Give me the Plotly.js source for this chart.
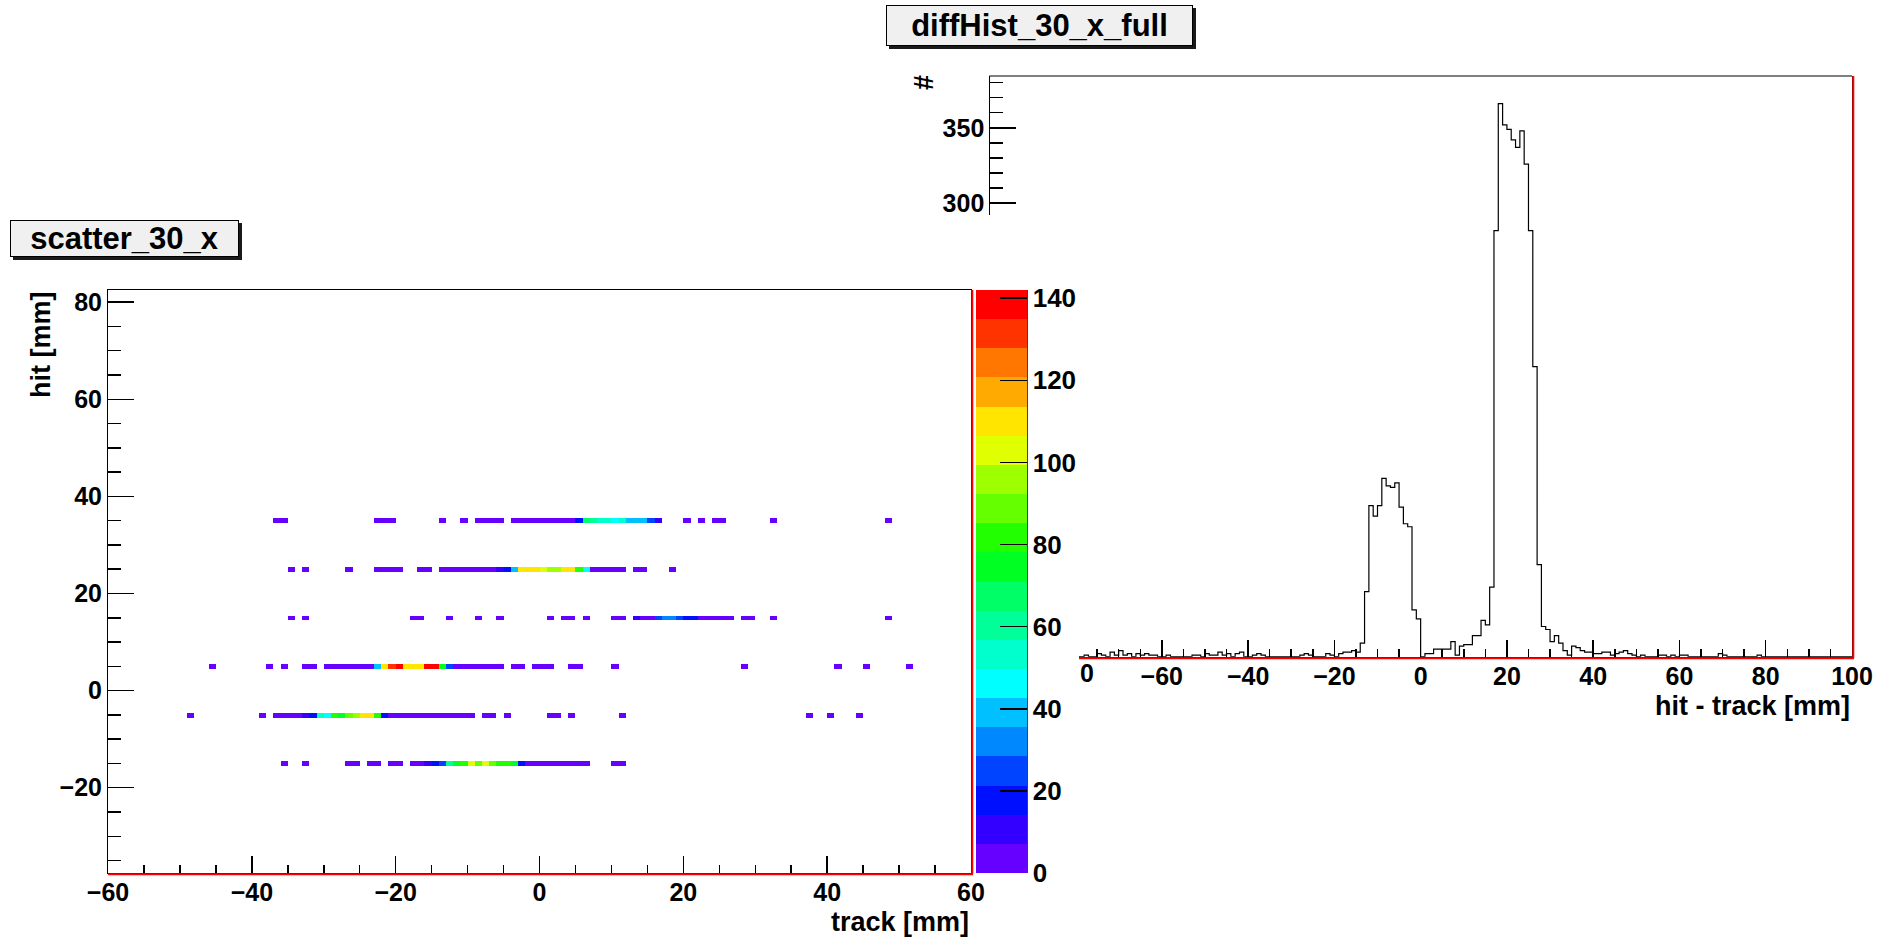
<!DOCTYPE html>
<html>
<head>
<meta charset="utf-8">
<script src="https://cdn.plot.ly/plotly-3.0.1.min.js"></script>
<style>
html,body{margin:0;padding:0;background:#fff;}
#chart{width:1896px;height:938px;}
</style>
</head>
<body>
<div id="chart"></div>
<script>
// ---------------- DATA ----------------
// scatter_30_x : 2D histogram, x bins of 1 mm (-60..60), y bins of 1 mm centred on integers (-37..82)
const scatterXMin = -60, scatterXBins = 120;
const scatterYMin = -37, scatterYBins = 120;
// each row: y centre, lower edges of filled x bins, counts
const row35_y = 35;
const row35_x = [-37,-36,-23,-22,-21,-14,-11,-9,-8,-7,-6,-4,-3,-2,-1,0,1,2,3,4,5,6,7,8,9,10,11,12,13,14,15,16,20,22,24,25,32,48];
const row35_n = [3,2,4,5,3,2,3,4,5,3,4,5,6,5,6,4,6,5,6,5,18,66,58,55,52,45,53,40,38,41,25,12,3,2,4,3,2,2];
const row25_y = 25;
const row25_x = [-35,-33,-27,-23,-22,-21,-20,-17,-16,-14,-13,-12,-11,-10,-9,-8,-7,-6,-5,-4,-3,-2,-1,0,1,2,3,4,5,6,7,8,9,10,11,13,14,18];
const row25_n = [3,2,3,4,5,5,4,3,4,5,6,5,6,6,5,6,6,11,17,38,108,110,109,103,95,97,108,111,80,45,6,5,6,5,4,4,3,2];
const row15_y = 15;
const row15_x = [-35,-33,-18,-17,-13,-9,-6,1,3,4,6,10,11,13,14,15,16,17,18,19,20,21,22,23,24,25,26,28,29,32,48];
const row15_n = [2,2,3,3,2,2,2,3,3,4,3,4,3,10,5,6,22,30,30,24,17,16,6,5,6,5,4,4,3,3,2];
const row5_y = 5;
const row5_x = [-46,-38,-36,-33,-32,-30,-29,-28,-27,-26,-25,-24,-23,-22,-21,-20,-19,-18,-17,-16,-15,-14,-13,-12,-11,-10,-9,-8,-7,-6,-4,-3,-1,0,1,4,5,10,28,41,45,51];
const row5_n = [3,2,3,4,3,5,6,5,6,6,5,6,38,110,132,136,110,108,112,142,139,78,22,6,6,5,6,5,6,4,5,4,4,5,4,5,4,3,2,2,2,2];
const rowm5_y = -5;
const rowm5_x = [-49,-39,-37,-36,-35,-34,-33,-32,-31,-30,-29,-28,-27,-26,-25,-24,-23,-22,-21,-20,-19,-18,-17,-16,-15,-14,-13,-12,-11,-10,-8,-7,-5,1,2,4,11,37,40,44];
const rowm5_n = [2,2,4,5,5,6,10,20,50,46,82,78,90,96,110,108,80,20,6,5,6,5,6,5,4,5,4,5,5,4,4,3,3,3,3,2,2,2,2,2];
const rowm15_y = -15;
const rowm15_x = [-36,-33,-27,-26,-24,-23,-21,-20,-18,-17,-16,-15,-14,-13,-12,-11,-10,-9,-8,-7,-6,-5,-4,-3,-2,-1,0,1,2,3,4,5,6,10,11];
const rowm15_n = [3,2,4,3,4,5,4,5,5,6,11,18,26,58,72,80,102,92,104,92,80,82,78,16,6,5,6,5,6,5,6,5,4,3,3];

const zMax = 142;
const zTicks = [0,20,40,60,80,100,120,140];
const paletteColors = ['#6600ff','#3300ff','#0010ff','#0044ff','#0088ff','#00c0ff','#00ffff','#00ffcc','#00ff99','#00ff66','#00ff22','#22ff00','#66ff00','#9eff00','#e0ff00','#ffe500','#ffaa00','#ff7700','#ff3300','#ff0000'];

// diffHist_30_x_full : 1D histogram, 200 bins of 1 mm from -100 to 100
const diffXMin = -100, diffBinWidth = 1;
const diffCounts = [
 0,1,0,0,2,0,1,0,0,1, 0,0,1,0,2,0,0,1,0,0,            // -100 .. -81
 0,0,1,0,0,2,1,0,3,1, 4,1,2,0,2,1,2,1,1,0,            // -80 .. -61
 0,1,0,0,0,0,0,1,1,0, 2,1,1,3,1,2,0,2,3,0,            // -60 .. -41
 0,1,2,1,0,0,0,0,0,0, 0,0,1,2,1,0,0,0,2,1,            // -40 .. -21
 0,2,3,3,4,3,9,43,100,93, 100,118,113,112,115,99,88,86,31,25, // -20 .. -1
 0,2,2,5,5,5,5,10,1,7, 8,8,14,14,24,21,46,282,366,352,  // 0 .. 19
 349,342,337,348,326,282,192,61,20,18, 10,14,9,4,1,7,6,4,3,3, // 20 .. 39
 2,2,3,3,1,2,3,4,2,1, 0,1,0,0,0,1,1,0,1,0,            // 40 .. 59
 1,1,0,0,0,0,0,0,0,2, 1,0,0,0,0,0,0,0,1,0,            // 60 .. 79
 0,0,0,0,0,0,0,0,0,0, 0,0,0,0,0,0,0,0,0,0             // 80 .. 99
];
const diffYMax = 384.3;

// ---------------- BUILD ----------------
const W = 1896, H = 938;
const px = v => v / W;
const py = v => 1 - v / H;
const FONT = 'Liberation Sans, Arial, Helvetica, sans-serif';

const xc = [], yc = [];
for (let i = 0; i < scatterXBins; i++) xc.push(scatterXMin + i + 0.5);
for (let j = 0; j < scatterYBins; j++) yc.push(scatterYMin + j);
const z = yc.map(() => xc.map(() => null));
const rows = [[row35_y,row35_x,row35_n],[row25_y,row25_x,row25_n],[row15_y,row15_x,row15_n],
              [row5_y,row5_x,row5_n],[rowm5_y,rowm5_x,rowm5_n],[rowm15_y,rowm15_x,rowm15_n]];
rows.forEach(([yy, xs, ns]) => {
  const j = yy - scatterYMin;
  xs.forEach((xl, k) => { z[j][xl - scatterXMin] = ns[k]; });
});
const cs = [];
paletteColors.forEach((c, i) => { cs.push([i / 20, c]); cs.push([(i + 1) / 20, c]); });

const hx = [diffXMin], hy = [0];
diffCounts.forEach((v, i) => { hx.push(diffXMin + i * diffBinWidth); hy.push(v); });
hx.push(diffXMin + diffCounts.length * diffBinWidth); hy.push(diffCounts[diffCounts.length - 1]);
hx.push(diffXMin + diffCounts.length * diffBinWidth); hy.push(0);

const tickFont = {family: FONT, size: 25, color: '#000', weight: 'bold'};
const titleFont = {family: FONT, size: 27, color: '#000', weight: 'bold'};

const heat = {
  type: 'heatmap', x: xc, y: yc, z: z, xaxis: 'x', yaxis: 'y',
  zmin: 0, zmax: zMax, colorscale: cs, zsmooth: false, hoverinfo: 'skip',
  colorbar: {
    x: px(976), xanchor: 'left', y: py(873), yanchor: 'bottom',
    len: (873 - 290) / H, lenmode: 'fraction', thickness: 51, thicknessmode: 'pixels',
    xpad: 0, ypad: 0, outlinewidth: 0,
    tickmode: 'array', tickvals: zTicks, ticktext: zTicks.map(String),
    ticks: 'inside', ticklen: 27, tickwidth: 1.5, tickcolor: '#000',
    tickfont: {family: FONT, size: 26, color: '#000', weight: 'bold'}
  }
};
const hist = {
  type: 'scatter', mode: 'lines', x: hx, y: hy, xaxis: 'x2', yaxis: 'y2',
  line: {color: '#000', width: 1.2, shape: 'hv'}, hoverinfo: 'skip', showlegend: false
};
const stub = {type: 'scatter', mode: 'lines', x: [], y: [], xaxis: 'x2', yaxis: 'y3', showlegend: false, hoverinfo: 'skip'};

const axBase = {
  showgrid: false, zeroline: false, showline: true, linecolor: '#000', linewidth: 1,
  ticks: 'inside', tickcolor: '#000', tickwidth: 1.5, tickfont: tickFont, fixedrange: true
};

const layout = {
  width: W, height: H, margin: {l: 0, r: 0, t: 0, b: 0},
  paper_bgcolor: '#fff', plot_bgcolor: 'rgba(0,0,0,0)', showlegend: false,
  font: {family: FONT, color: '#000'},
  xaxis: Object.assign({}, axBase, {
    domain: [px(108), px(971)], range: [-60, 60], anchor: 'y', mirror: true,
    tick0: 0, dtick: 20, ticklen: 17, ticklabelstandoff: -3,
    minor: {dtick: 5, tick0: 0, ticks: 'inside', ticklen: 8, tickcolor: '#000', tickwidth: 1.5}
  }),
  yaxis: Object.assign({}, axBase, {
    domain: [py(872.7), py(290)], range: [-37.5, 82.5], anchor: 'x', mirror: true,
    tick0: 0, dtick: 20, ticklen: 26,
    minor: {dtick: 5, tick0: 0, ticks: 'inside', ticklen: 13, tickcolor: '#000', tickwidth: 1.5}
  }),
  xaxis2: Object.assign({}, axBase, {
    domain: [px(1079), px(1852)], range: [-79.2, 100], anchor: 'y2',
    tick0: 0, dtick: 20, ticklen: 17, ticklabelstandoff: -3,
    minor: {dtick: 5, tick0: 0, ticks: 'inside', ticklen: 8, tickcolor: '#000', tickwidth: 1.5}
  }),
  yaxis2: {
    domain: [py(656.7), py(76)], range: [0, diffYMax], anchor: 'x2', side: 'right',
    showline: true, linecolor: '#000', linewidth: 1, ticks: '', showticklabels: false,
    showgrid: false, zeroline: false, fixedrange: true
  },
  yaxis3: Object.assign({}, axBase, {
    domain: [py(215), py(76)], range: [292.2, diffYMax], anchor: 'free', position: px(989.3),
    tick0: 0, dtick: 50, ticklen: 26,
    minor: {dtick: 10, tick0: 0, ticks: 'inside', ticklen: 13, tickcolor: '#000', tickwidth: 1.5}
  }),
  shapes: [
    // right frame: top border extension & red highlight edges
    {type: 'line', xref: 'paper', yref: 'paper', x0: px(989.3), x1: px(1852), y0: py(76), y1: py(76), line: {color: '#000', width: 1}},
    {type: 'line', xref: 'paper', yref: 'paper', x0: px(1853.3), x1: px(1853.3), y0: py(76), y1: py(658), line: {color: '#ff0000', width: 2}},
    {type: 'line', xref: 'paper', yref: 'paper', x0: px(1079), x1: px(1854), y0: py(658.2), y1: py(658.2), line: {color: '#ff0000', width: 2}},
    // left frame red edges
    {type: 'line', xref: 'paper', yref: 'paper', x0: px(972.3), x1: px(972.3), y0: py(290), y1: py(874), line: {color: '#ff0000', width: 2}},
    {type: 'line', xref: 'paper', yref: 'paper', x0: px(108), x1: px(973), y0: py(874.2), y1: py(874.2), line: {color: '#ff0000', width: 2}},
    // colour bar axis line
    {type: 'line', xref: 'paper', yref: 'paper', x0: px(1027), x1: px(1027), y0: py(290), y1: py(873), line: {color: '#000', width: 1.5}},
    // title box shadows
    {type: 'rect', xref: 'paper', yref: 'paper', x0: px(889), x1: px(1196), y0: py(8), y1: py(49), fillcolor: '#1a1a1a', line: {width: 0}},
    {type: 'rect', xref: 'paper', yref: 'paper', x0: px(13), x1: px(242), y0: py(223), y1: py(260), fillcolor: '#1a1a1a', line: {width: 0}}
  ],
  annotations: [
    {text: 'diffHist_30_x_full', xref: 'paper', yref: 'paper', x: px(1039.5), y: py(25.5), xanchor: 'center', yanchor: 'middle',
     showarrow: false, font: {family: FONT, size: 31, color: '#000', weight: 'bold'}, bgcolor: '#f0f0f0',
     bordercolor: '#000', borderwidth: 1, borderpad: 0, width: 305, height: 39},
    {text: 'scatter_30_x', xref: 'paper', yref: 'paper', x: px(124.5), y: py(238.5), xanchor: 'center', yanchor: 'middle',
     showarrow: false, font: {family: FONT, size: 31, color: '#000', weight: 'bold'}, bgcolor: '#f0f0f0',
     bordercolor: '#000', borderwidth: 1, borderpad: 0, width: 227, height: 35},
    {text: 'hit [mm]', xref: 'paper', yref: 'paper', x: px(41), y: py(290), xanchor: 'center', yanchor: 'top',
     textangle: -90, showarrow: false, font: titleFont},
    {text: 'track [mm]', xref: 'paper', yref: 'paper', x: px(971), y: py(922), xanchor: 'right', yanchor: 'middle',
     showarrow: false, font: titleFont},
    {text: 'hit - track [mm]', xref: 'paper', yref: 'paper', x: px(1852), y: py(706), xanchor: 'right', yanchor: 'middle',
     showarrow: false, font: titleFont},
    {text: '#', xref: 'paper', yref: 'paper', x: px(924), y: py(83), xanchor: 'center', yanchor: 'middle',
     textangle: -90, showarrow: false, font: titleFont},
    {text: '0', xref: 'paper', yref: 'paper', x: px(1086.5), y: py(673), xanchor: 'center', yanchor: 'middle',
     showarrow: false, font: tickFont}
  ]
};

Plotly.newPlot('chart', [heat, hist, stub], layout, {staticPlot: true, displayModeBar: false});
</script>
</body>
</html>
